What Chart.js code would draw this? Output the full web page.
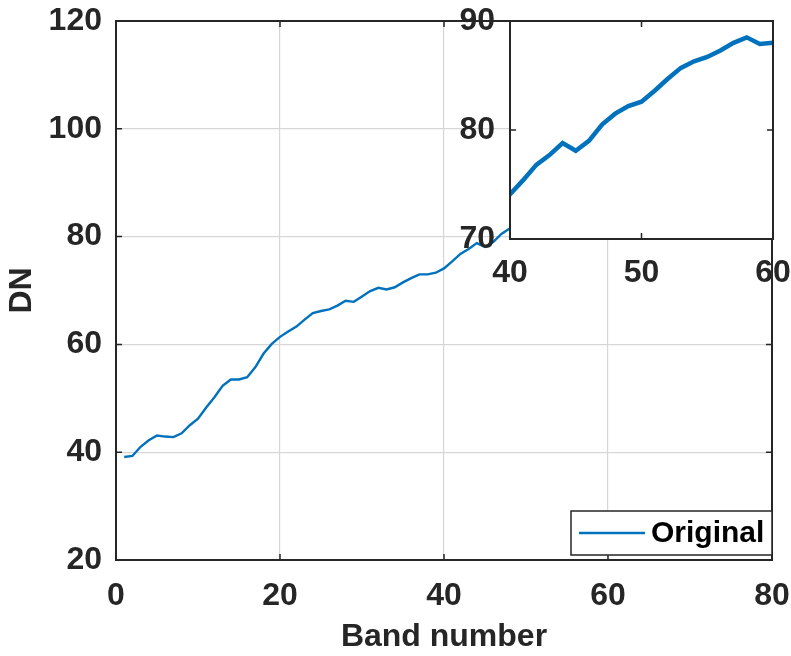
<!DOCTYPE html>
<html>
<head>
<meta charset="utf-8">
<script src="https://cdn.jsdelivr.net/npm/chart.js@4.4.1/dist/chart.umd.min.js"></script>
<style>
    body { margin: 0; background: #fff; }
    #wrap { position: relative; width: 791px; height: 656px; }
    #mainChart { position: absolute; left: 0; top: 0; }
    #insetChart { position: absolute; left: 440px; top: 0; }
</style>
</head>
<body>
<div id="wrap">
    <canvas id="mainChart" width="791" height="656"></canvas>
    <canvas id="insetChart" width="351" height="300"></canvas>
</div>
<script>
const bands = [
    1, 2, 3, 4, 5, 6, 7, 8, 9, 10,
    11, 12, 13, 14, 15, 16, 17, 18, 19, 20,
    21, 22, 23, 24, 25, 26, 27, 28, 29, 30,
    31, 32, 33, 34, 35, 36, 37, 38, 39, 40,
    41, 42, 43, 44, 45, 46, 47, 48, 49, 50,
    51, 52, 53, 54, 55, 56, 57, 58, 59, 60
];
const dnValues = [
    39.1, 39.3, 41.0, 42.2, 43.1, 42.9, 42.8, 43.5, 45.0, 46.2,
    48.3, 50.2, 52.3, 53.5, 53.5, 53.9, 55.8, 58.3, 60.1, 61.4,
    62.4, 63.3, 64.6, 65.8, 66.2, 66.5, 67.2, 68.1, 67.9, 68.9,
    69.9, 70.5, 70.2, 70.6, 71.5, 72.3, 73.0, 73.0, 73.3, 74.1,
    75.4, 76.8, 77.7, 78.8, 78.1, 79.0, 80.5, 81.5, 82.2, 82.6,
    83.6, 84.7, 85.7, 86.3, 86.7, 87.3, 88.0, 88.5, 87.9, 88.0
];
const seriesName = 'Original';
const xTitle = 'Band number';
const yTitle = 'DN';

const ink = '#262626';
const lineBlue = '#0072bd';
const fontFamily = "'Liberation Sans', Arial, sans-serif";
const tickFont = { family: fontFamily, size: 32, weight: 'bold' };
const titleFont = { family: fontFamily, size: 32, weight: 'bold' };

let points = bands.map((b, i) => ({ x: b, y: dnValues[i] }));

// matlab style box + inner tick marks
const boxPlugin = {
    id: 'box',
    beforeDraw(chart, args, opts) {
        if (!opts.fillArea) return;
        let a = chart.chartArea;
        let ctx = chart.ctx;
        ctx.save();
        ctx.fillStyle = '#fff';
        ctx.fillRect(a.left, a.top, a.right - a.left, a.bottom - a.top);
        ctx.restore();
    },
    afterDraw(chart) {
        let a = chart.chartArea;
        let ctx = chart.ctx;
        let xs = chart.scales.x, ys = chart.scales.y;
        ctx.save();
        ctx.strokeStyle = ink;
        ctx.lineWidth = 1.5;
        ctx.beginPath();
        xs.ticks.forEach(t => {
            if (t.value <= xs.min || t.value >= xs.max) return;
            let px = xs.getPixelForValue(t.value);
            ctx.moveTo(px, a.bottom); ctx.lineTo(px, a.bottom - 6);
            ctx.moveTo(px, a.top); ctx.lineTo(px, a.top + 6);
        });
        ys.ticks.forEach(t => {
            if (t.value <= ys.min || t.value >= ys.max) return;
            let py = ys.getPixelForValue(t.value);
            ctx.moveTo(a.left, py); ctx.lineTo(a.left + 6, py);
            ctx.moveTo(a.right, py); ctx.lineTo(a.right - 6, py);
        });
        ctx.stroke();
        ctx.lineWidth = 2;
        ctx.strokeRect(a.left, a.top, a.right - a.left, a.bottom - a.top);
        ctx.restore();
    }
};

const boxLegend = {
    id: 'boxLegend',
    afterDraw(chart, args, opts) {
        if (!opts.show) return;
        let a = chart.chartArea;
        let ctx = chart.ctx;
        let ds = chart.data.datasets[0];
        let w = 201, h = 44;
        let x0 = a.right - w, y0 = a.bottom - 5 - h;
        ctx.save();
        ctx.fillStyle = '#fff';
        ctx.fillRect(x0, y0, w, h);
        ctx.strokeStyle = ink;
        ctx.lineWidth = 1.5;
        ctx.strokeRect(x0, y0, w, h);
        ctx.strokeStyle = ds.borderColor;
        ctx.lineWidth = 2.4;
        ctx.beginPath();
        ctx.moveTo(x0 + 8, y0 + h / 2);
        ctx.lineTo(x0 + 74, y0 + h / 2);
        ctx.stroke();
        ctx.fillStyle = '#000';
        ctx.font = 'bold 30px ' + fontFamily;
        ctx.textBaseline = 'middle';
        ctx.fillText(ds.label, x0 + 80, y0 + h / 2 + 1);
        ctx.restore();
    }
};

function fixX(h) {
    return s => { s.height = h; s.paddingLeft = 0; s.paddingRight = 0; };
}
function fixY(w) {
    return s => { s.width = w; s.paddingTop = 0; s.paddingBottom = 0; };
}

new Chart(document.getElementById('mainChart'), {
    type: 'line',
    data: {
        datasets: [{
            label: seriesName,
            data: points,
            borderColor: lineBlue,
            borderWidth: 2.4,
            pointRadius: 0,
            tension: 0
        }]
    },
    options: {
        responsive: false,
        animation: false,
        layout: { autoPadding: false, padding: { top: 21, right: 19, left: 0, bottom: 0 } },
        plugins: {
            legend: { display: false },
            tooltip: { enabled: false },
            boxLegend: { show: true }
        },
        scales: {
            x: {
                type: 'linear', min: 0, max: 80,
                ticks: { stepSize: 20, color: ink, font: tickFont, padding: 17 },
                grid: { color: '#d6d6d6', lineWidth: 1.2, drawTicks: false },
                border: { display: false },
                title: { display: true, text: xTitle, color: ink, font: titleFont, padding: { top: 3, bottom: 0 } },
                afterFit: fixX(96)
            },
            y: {
                min: 20, max: 120,
                ticks: { stepSize: 20, color: ink, font: tickFont, padding: 14 },
                grid: { color: '#d6d6d6', lineWidth: 1.2, drawTicks: false },
                border: { display: false },
                title: { display: true, text: yTitle, color: ink, font: titleFont, padding: { top: 3, bottom: 0 } },
                afterFit: fixY(116)
            }
        }
    },
    plugins: [boxPlugin, boxLegend]
});

new Chart(document.getElementById('insetChart'), {
    type: 'line',
    data: {
        datasets: [{
            label: seriesName,
            data: points,
            borderColor: lineBlue,
            borderWidth: 4.5,
            pointRadius: 0,
            tension: 0
        }]
    },
    options: {
        responsive: false,
        animation: false,
        layout: { autoPadding: false, padding: { top: 21, right: 18, left: 0, bottom: 0 } },
        plugins: {
            legend: { display: false },
            tooltip: { enabled: false },
            box: { fillArea: true }
        },
        scales: {
            x: {
                type: 'linear', min: 40, max: 60,
                ticks: { stepSize: 10, color: ink, font: tickFont, padding: 15 },
                grid: { display: false, drawTicks: false },
                border: { display: false },
                afterFit: fixX(61)
            },
            y: {
                min: 70, max: 90,
                ticks: { stepSize: 10, color: ink, font: tickFont, padding: 15 },
                grid: { display: false, drawTicks: false },
                border: { display: false },
                afterFit: fixY(70)
            }
        }
    },
    plugins: [boxPlugin]
});
</script>
</body>
</html>
